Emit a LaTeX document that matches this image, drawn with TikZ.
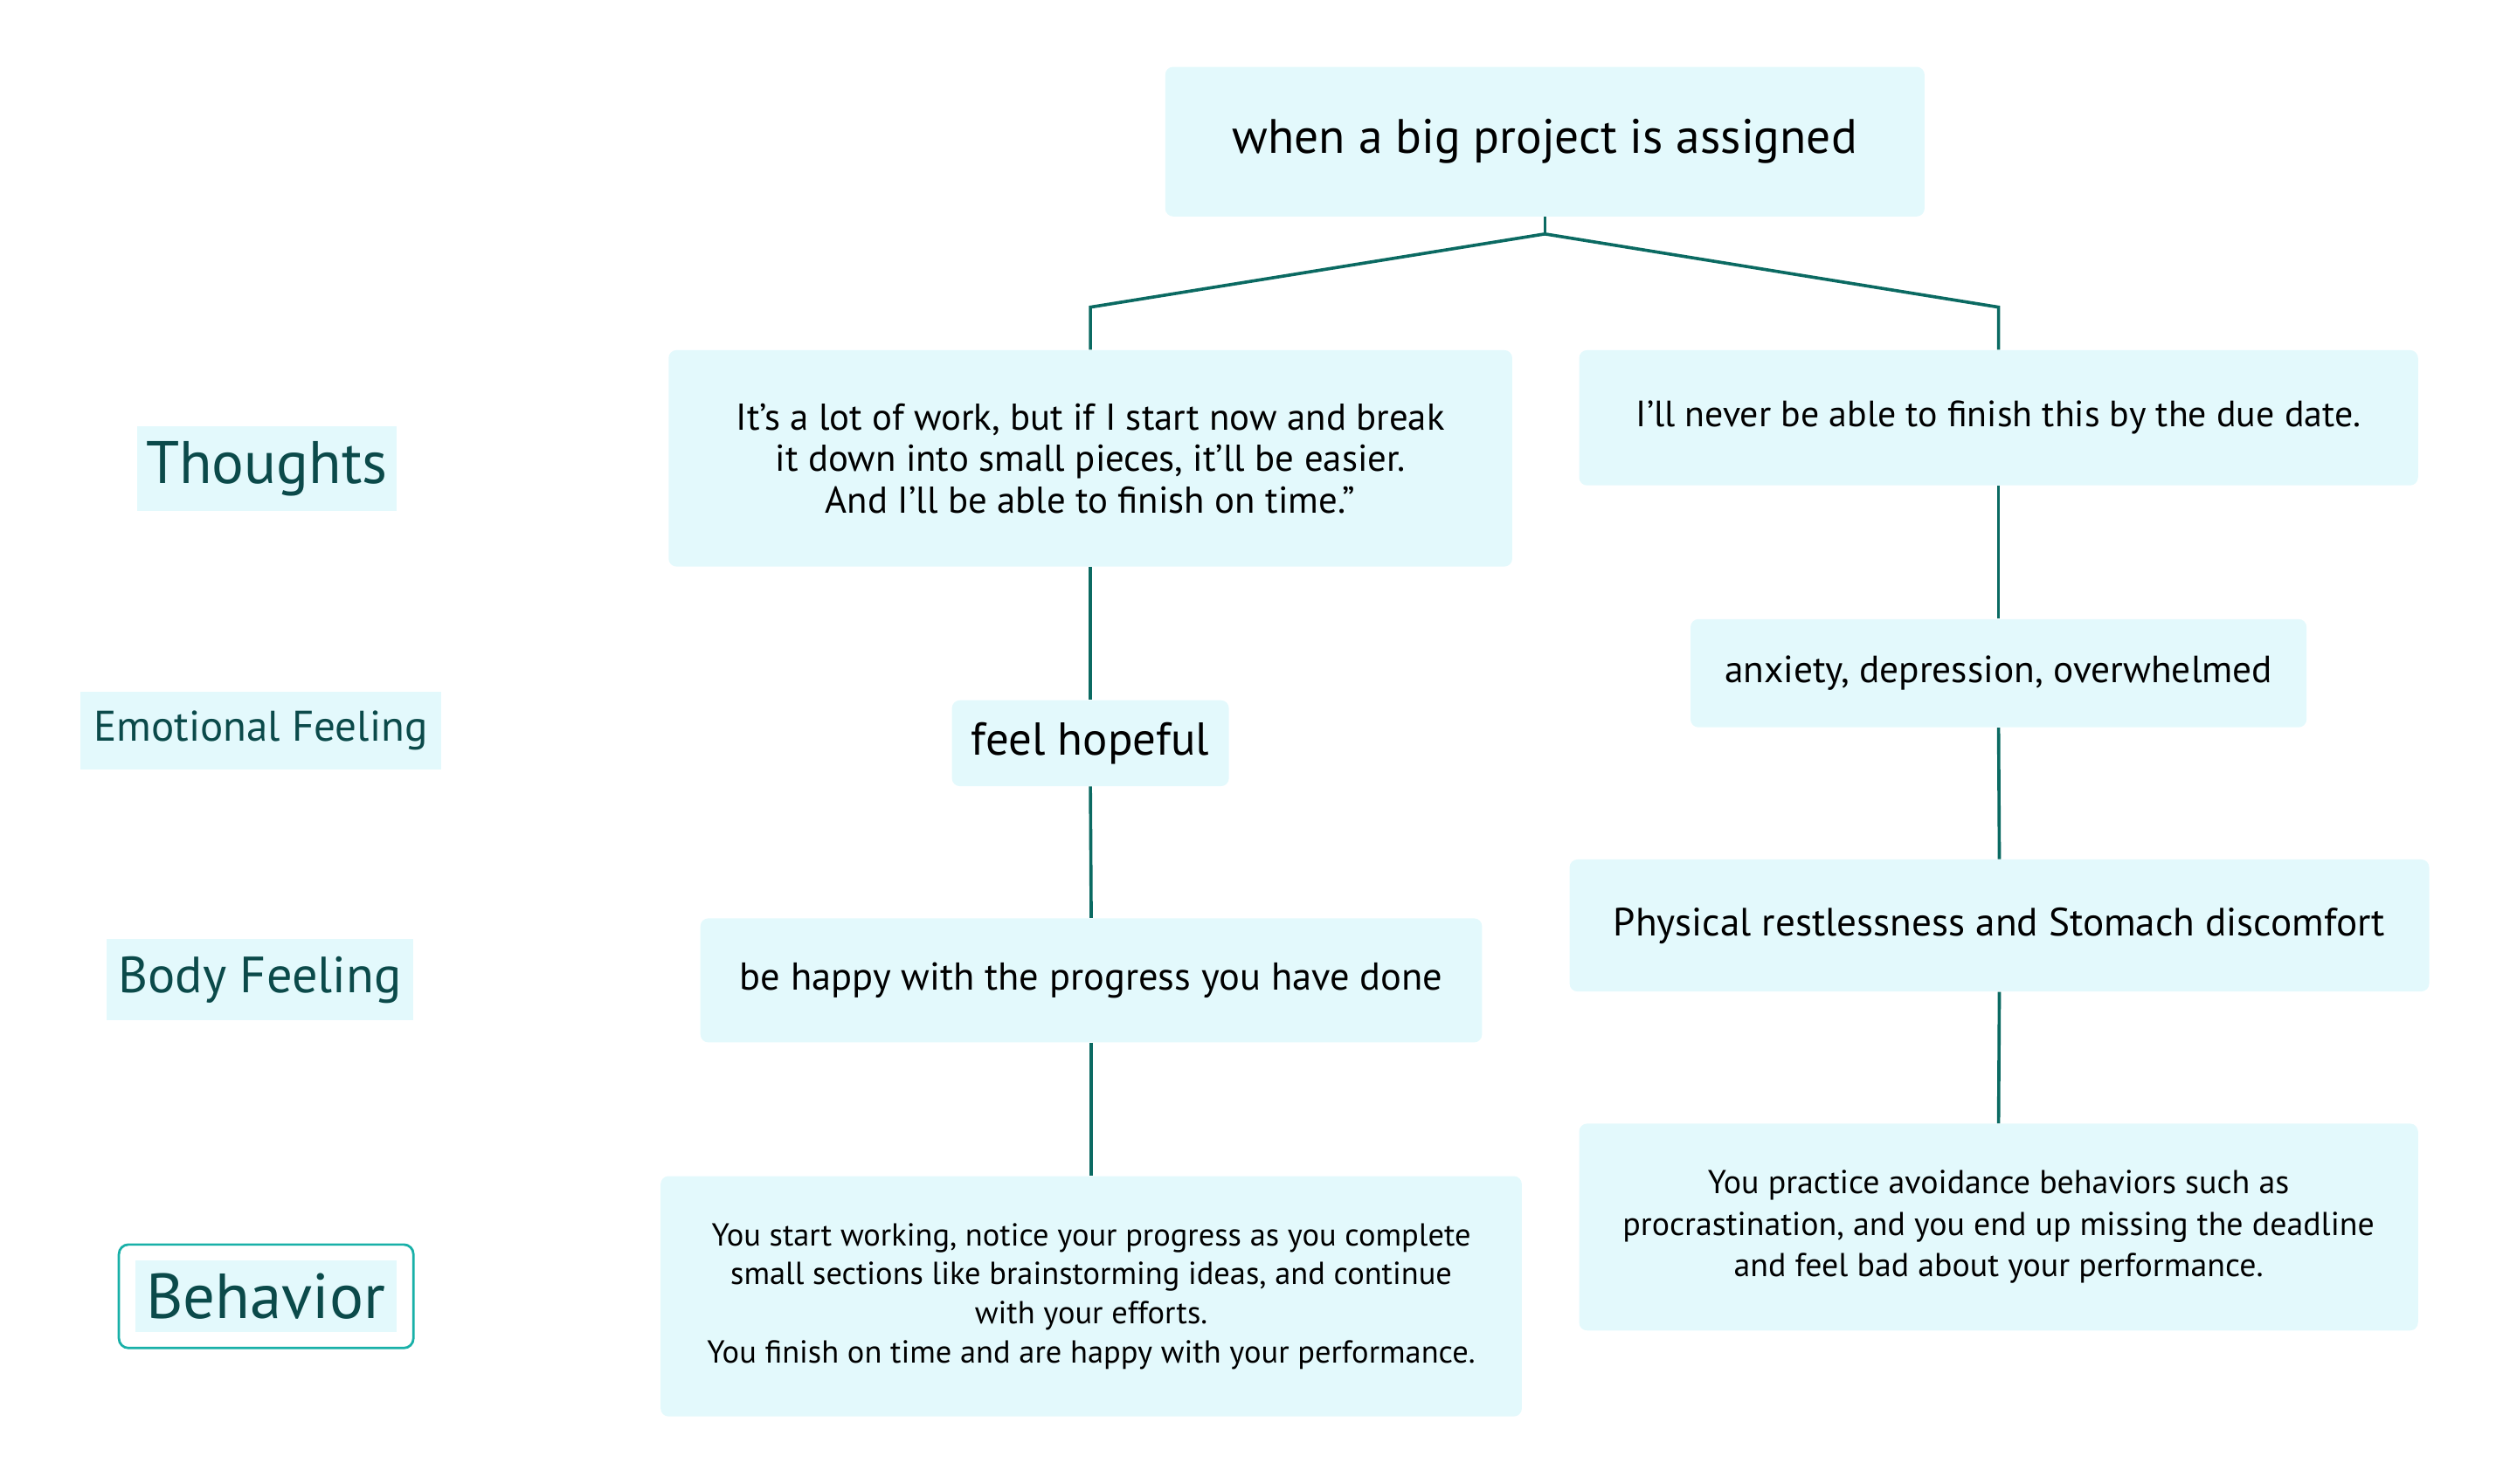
\documentclass[tikz,border=0pt]{standalone}
\usepackage{fontspec}
\setmainfont{PT Sans}
\definecolor{boxc}{HTML}{E3F9FC}
\definecolor{linec}{HTML}{0B6A62}
\definecolor{labc}{HTML}{0B4A4A}
\definecolor{behb}{HTML}{18B0A8}
\tikzset{
  box/.style={fill=boxc, rounded corners=5pt, inner sep=0pt, align=center, text=black},
  lab/.style={fill=boxc, inner sep=0pt, text=labc},
  conn/.style={draw=linec, line width=2pt},
}
\begin{document}
\begin{tikzpicture}[x=1pt,y=-1pt]
\useasboundingbox (0,0) rectangle (1568,932);
% main boxes
\node[box, minimum width=477pt, minimum height=94pt, font=\fontsize{30.4}{36}\selectfont] (top) at (970.5,89) {when a big project is assigned};
\node[box, minimum width=530pt, minimum height=136pt, font=\fontsize{23.5}{26}\selectfont] (lt) at (685,288) {It’s a lot of work, but if I start now and break\\it down into small pieces, it’ll be easier.\\And I’ll be able to finish on time.”};
\node[box, minimum width=527pt, minimum height=85pt, font=\fontsize{23}{26}\selectfont] (rt) at (1255.5,262.5) {I’ll never be able to finish this by the due date.};
\node[box, minimum width=174pt, minimum height=54pt, font=\fontsize{29}{34}\selectfont] (lemo) at (685,467) {feel hopeful};
\node[box, minimum width=387pt, minimum height=68pt, font=\fontsize{23.8}{28}\selectfont] (remo) at (1255.5,423) {anxiety, depression, overwhelmed};
\node[box, minimum width=491pt, minimum height=78pt, font=\fontsize{24.4}{28}\selectfont] (lbody) at (685.5,616) {be happy with the progress you have done};
\node[box, minimum width=540pt, minimum height=83pt, font=\fontsize{24.8}{28}\selectfont] (rbody) at (1256,581.5) {Physical restlessness and Stomach discomfort};
\node[box, minimum width=541pt, minimum height=151pt, font=\fontsize{20}{24.5}\selectfont] (lbeh) at (685.5,814.5) {You start working, notice your progress as you complete\\small sections like brainstorming ideas, and continue\\with your efforts.\\You finish on time and are happy with your performance.};
\node[box, minimum width=527pt, minimum height=130pt, font=\fontsize{20.8}{26}\selectfont] (rbeh) at (1255.5,771) {You practice avoidance behaviors such as\\procrastination, and you end up missing the deadline\\and feel bad about your performance.};
% labels
\node[lab, minimum width=163pt, minimum height=53pt, font=\fontsize{37.7}{42}\selectfont] (lthought) at (167.5,294.5) {Thoughts};
\node[lab, minimum width=226.5pt, minimum height=48.6pt, font=\fontsize{26.9}{30}\selectfont] (lemotion) at (163.75,459) {Emotional Feeling};
\node[lab, minimum width=192.3pt, minimum height=51pt, font=\fontsize{32}{36}\selectfont] (lbodyf) at (163.25,615.6) {Body Feeling};
\node[draw=behb, line width=1.5pt, rounded corners=6pt, minimum width=185pt, minimum height=65pt] (behframe) at (167.2,814.5) {};
\node[lab, minimum width=164pt, minimum height=45pt, font=\fontsize{40}{44}\selectfont] (lbehav) at (167,814.5) {Behavior};
% connectors
\coordinate (j) at (970.5,147);
\coordinate (jl) at (685,193);
\coordinate (jr) at (1255.5,193);
\draw[conn] (top.south) -- (j);
\draw[conn] (j) -- (jl) -- (lt.north);
\draw[conn] (j) -- (jr) -- (rt.north);
\draw[conn] (lt.south) -- (lemo.north);
\draw[conn] (lemo.south) -- (lbody.north);
\draw[conn] (lbody.south) -- (lbeh.north);
\draw[conn] (rt.south) -- (remo.north);
\draw[conn] (remo.south) -- (rbody.north);
\draw[conn] (rbody.south) -- (rbeh.north);
\end{tikzpicture}
\end{document}
